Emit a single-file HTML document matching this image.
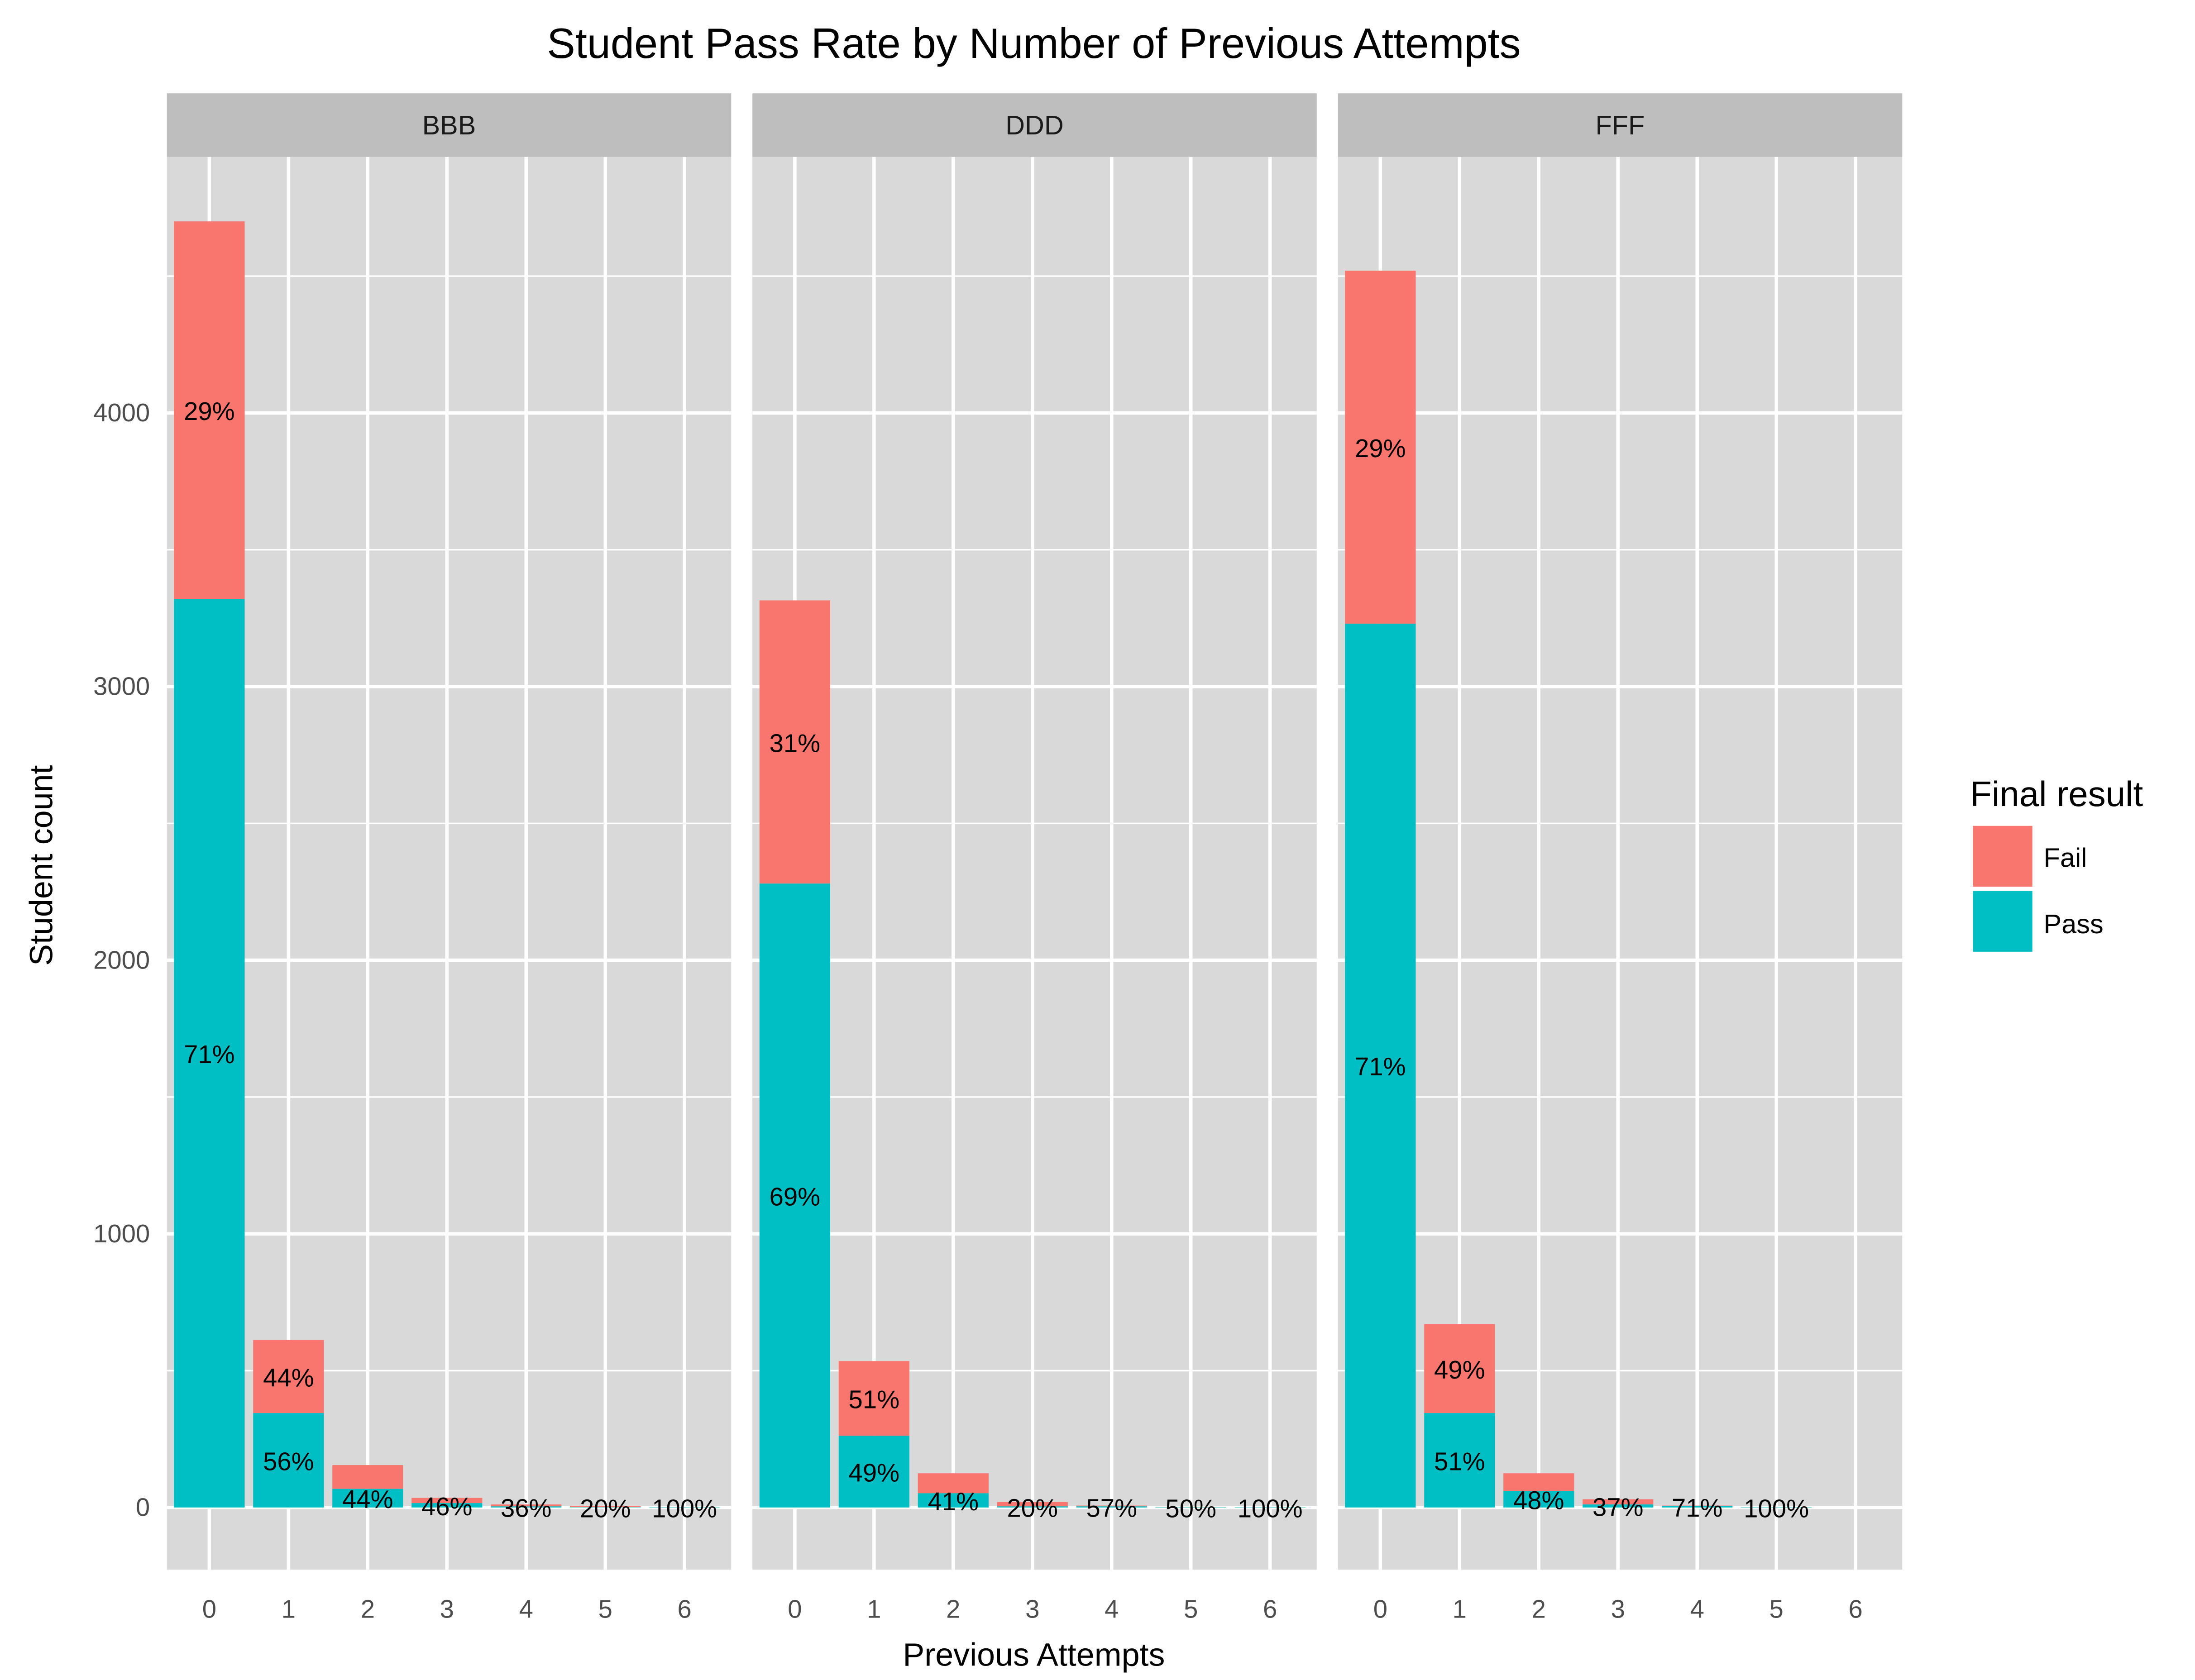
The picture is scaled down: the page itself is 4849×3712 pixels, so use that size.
<!DOCTYPE html>
<html><head><meta charset="utf-8"><style>
html,body{margin:0;padding:0;background:#fff;}
svg{display:block;font-family:"Liberation Sans",Arial,sans-serif;}
</style></head><body>
<svg id="chart" width="4849" height="3712" viewBox="0 0 1552 1188" preserveAspectRatio="none" xmlns="http://www.w3.org/2000/svg">
<text x="731" y="41" text-anchor="middle" font-size="30" fill="#000">Student Pass Rate by Number of Previous Attempts</text>
<text x="731" y="1178" text-anchor="middle" font-size="23" fill="#000">Previous Attempts</text>
<text transform="translate(37,612) rotate(-90)" text-anchor="middle" font-size="23" fill="#000">Student count</text>
<g>
<text x="1393" y="570" font-size="25" fill="#000">Final result</text>
<rect x="1395" y="584" width="42" height="43" fill="#F8766D"/>
<text x="1445" y="613" font-size="19" fill="#000">Fail</text>
<rect x="1395" y="630" width="42" height="43" fill="#00BFC4"/>
<text x="1445" y="660" font-size="19" fill="#000">Pass</text>
</g>
</svg>
<script>
const panels = ["BBB","DDD","FFF"];
const categories = [0,1,2,3,4,5,6];
const totalBBB = [4700,612,155,35,11,5,1];
const passBBB  = [3320,345,68,16,4,1,1];
const totalDDD = [3315,535,125,20,7,2,1];
const passDDD  = [2280,262,52,4,4,1,1];
const totalFFF = [4520,670,125,30,7,1,0];
const passFFF  = [3230,345,60,11,5,1,0];
const passLblBBB = ["71%","56%","44%","46%","36%","20%","100%"];
const passLblDDD = ["69%","49%","41%","20%","57%","50%","100%"];
const passLblFFF = ["71%","51%","48%","37%","71%","100%",""];
const failLblBBB = ["29%","44%"];
const failLblDDD = ["31%","51%"];
const failLblFFF = ["29%","49%"];
const yTicks = [0,1000,2000,3000,4000];
const yMinor = [500,1500,2500,3500,4500];

const totals=[totalBBB,totalDDD,totalFFF], passes=[passBBB,passDDD,passFFF];
const pLbl=[passLblBBB,passLblDDD,passLblFFF], fLbl=[failLblBBB,failLblDDD,failLblFFF];
const NS="http://www.w3.org/2000/svg";
const svg=document.getElementById('chart');
const panelX=[118,532,946], panelW=399, pTop=111, pBottom=1110;
function yS(v){return 1066-(v/1000)*193.5;}
function xS(p,c){return panelX[p]+30+c*56;}
function mk(tag,attrs,parent){const e=document.createElementNS(NS,tag);for(const k in attrs)e.setAttribute(k,attrs[k]);(parent||svg).appendChild(e);return e;}
yTicks.forEach(t=>{
  const tx=mk('text',{x:106,y:yS(t)+6,'text-anchor':'end','font-size':18,fill:'#4D4D4D'});
  
  
  tx.textContent=t;
});
panels.forEach((name,p)=>{
  const g=mk('g',{});
  
  
  const strip=mk('rect',{x:panelX[p],y:66,width:panelW,height:45,fill:'#BEBEBE'},g);
  
  
  const st=mk('text',{x:panelX[p]+panelW/2,y:95,'text-anchor':'middle','font-size':19,fill:'#1A1A1A'},g);
  
  
  st.textContent=name;
  const bg=mk('rect',{x:panelX[p],y:pTop,width:panelW,height:pBottom-pTop,fill:'#D9D9D9'},g);
  
  
  yMinor.forEach(t=>{const l=mk('line',{x1:panelX[p],x2:panelX[p]+panelW,y1:yS(t),y2:yS(t),stroke:'#fff','stroke-width':1.1},g);
    
    });
  yTicks.forEach(t=>{const l=mk('line',{x1:panelX[p],x2:panelX[p]+panelW,y1:yS(t),y2:yS(t),stroke:'#fff','stroke-width':2.4},g);
    
    });
  categories.forEach((c,i)=>{const l=mk('line',{x1:xS(p,i),x2:xS(p,i),y1:pTop,y2:pBottom,stroke:'#fff','stroke-width':2.4},g);
    
    
    const tl=mk('text',{x:xS(p,i),y:1144,'text-anchor':'middle','font-size':18,fill:'#4D4D4D'},g);
    
    
    tl.textContent=c;});
  categories.forEach((c,i)=>{
    const T=totals[p][i], P=passes[p][i], bx=xS(p,i)-25;
    if(T>0){
      const fr=mk('rect',{x:bx,y:yS(T),width:50,height:yS(P)-yS(T),fill:'#F8766D'},g);
      
      
      const pr=mk('rect',{x:bx,y:yS(P),width:50,height:yS(0)-yS(P),fill:'#00BFC4'},g);
      
      
    }
    if(fLbl[p][i]){const t=mk('text',{x:xS(p,i),y:(yS(T)+yS(P))/2+7,'text-anchor':'middle','font-size':18,fill:'#000'},g);
      
      
      t.textContent=fLbl[p][i];}
    if(pLbl[p][i]){const yy=(yS(P)+yS(0))/2;const t=mk('text',{x:xS(p,i),y:yy+7,'text-anchor':'middle','font-size':18,fill:'#000'},g);
      
      
      t.textContent=pLbl[p][i];}
  });
});
</script>
</body></html>
